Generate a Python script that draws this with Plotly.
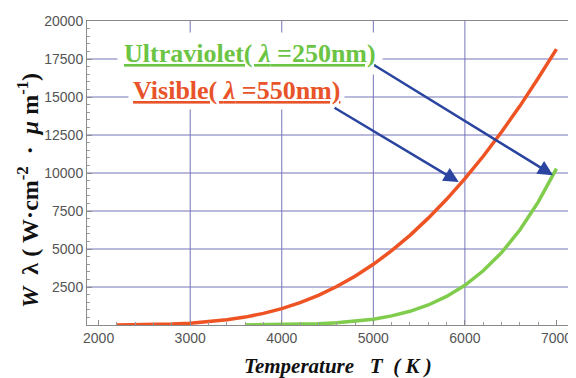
import plotly.graph_objects as go

# Visible (lambda = 550 nm)
vis_T = [2200, 2400, 2600, 2800, 3000, 3200, 3400, 3600, 3800, 4000, 4200, 4400,
         4600, 4800, 5000, 5200, 5400, 5600, 5800, 6000, 6200, 6400, 6600, 6800, 7000]
vis_W = [5, 14, 32, 65, 121, 209, 339, 520, 763, 1077, 1470, 1953,
         2530, 3210, 3995, 4890, 5900, 7030, 8270, 9630, 11100, 12700, 14400, 16230, 18150]

# Ultraviolet (lambda = 250 nm)
uv_T = [3600, 3800, 4000, 4200, 4400, 4600, 4800, 5000, 5200, 5400, 5600, 5800,
        6000, 6200, 6400, 6600, 6800, 7000]
uv_W = [4, 10, 22, 43, 80, 141, 238, 384, 598, 901, 1317, 1878,
        2615, 3565, 4760, 6250, 8085, 10290]

x_ticks = [2000, 3000, 4000, 5000, 6000, 7000]
y_ticks = [2500, 5000, 7500, 10000, 12500, 15000, 17500, 20000]
x_grid = [3000, 4000, 5000, 6000]
y_grid = [2500, 5000, 7500, 10000, 12500, 15000, 17500]

ORANGE = "#ee5324"
GREEN = "#80cc4c"
ARROW = "#2a44a0"
GRID = "#7575b8"
SERIF = "Liberation Serif, Times New Roman, serif"

fig = go.Figure()
fig.add_trace(go.Scatter(x=vis_T, y=vis_W, mode="lines",
                         line=dict(color=ORANGE, width=3.5), showlegend=False))
fig.add_trace(go.Scatter(x=uv_T, y=uv_W, mode="lines",
                         line=dict(color=GREEN, width=3.5), showlegend=False))

shapes = []
for gx in x_grid:
    shapes.append(dict(type="line", xref="x", yref="paper", x0=gx, x1=gx, y0=0, y1=1,
                       line=dict(color=GRID, width=1), layer="below"))
for gy in y_grid:
    shapes.append(dict(type="line", xref="paper", yref="y", x0=0, x1=1, y0=gy, y1=gy,
                       line=dict(color=GRID, width=1), layer="below"))

annotations = [
    # labels
    dict(x=3655, y=17850, xref="x", yref="y", showarrow=False,
         text="<b><u>Ultraviolet( <i>λ</i> =250nm)</u></b>",
         font=dict(family=SERIF, size=26, color="#6cc444"),
         bgcolor="white", borderpad=6),
    dict(x=3505, y=15400, xref="x", yref="y", showarrow=False,
         text="<b><u>Visible( <i>λ</i> =550nm)</u></b>",
         font=dict(family=SERIF, size=26, color="#e8532a"),
         bgcolor="white", borderpad=4),
    # arrows
    dict(x=5933, y=9400, ax=4560, ay=14350, xref="x", yref="y", axref="x", ayref="y",
         text="", font=dict(size=1), showarrow=True, arrowhead=2, arrowsize=1.2,
         arrowwidth=2.5, arrowcolor=ARROW, standoff=0),
    dict(x=6962, y=9860, ax=4995, ay=17150, xref="x", yref="y", axref="x", ayref="y",
         text="", font=dict(size=1), showarrow=True, arrowhead=2, arrowsize=1.2,
         arrowwidth=2.5, arrowcolor=ARROW, standoff=0),
    # axis titles
    dict(x=0, y=0.5, xref="paper", yref="paper", xanchor="center", yanchor="middle",
         xshift=-59, yshift=-18, showarrow=False, textangle=-90,
         text="<b><i>W</i>  λ ( W·cm<sup>-2</sup>  ·  <i>μ</i> m<sup>-1</sup>)</b>",
         font=dict(family=SERIF, size=24, color="#111111")),
    dict(x=0.5, y=0, xref="paper", yref="paper", xanchor="center", yanchor="middle",
         xshift=10, yshift=-41, showarrow=False,
         text="<b><i>Temperature   T  ( K )</i></b>",
         font=dict(family=SERIF, size=21, color="#111111")),
]

# the page body adds an 8px offset, so the figure is 8px smaller on each side
fig.update_layout(
    width=568, height=370,
    margin=dict(l=79, r=4, t=13, b=53),
    paper_bgcolor="white", plot_bgcolor="white",
    shapes=shapes, annotations=annotations,
    xaxis=dict(range=[1873, 7126], tickvals=x_ticks, tickformat="d", showgrid=False,
               zeroline=False, showline=True, linecolor="#8a8a8a", linewidth=1, mirror=True,
               ticks="inside", ticklen=5, tickcolor="#8a8a8a", ticklabeloverflow="allow",
               minor=dict(dtick=200, tick0=2000, ticks="inside", ticklen=3, tickcolor="#9a9a9a"),
               tickfont=dict(family="Liberation Sans, Arial", size=14, color="#555555")),
    yaxis=dict(range=[0, 20000], tickvals=y_ticks, tickformat="d", showgrid=False,
               zeroline=False, showline=True, linecolor="#8a8a8a", linewidth=1, mirror=True,
               ticks="inside", ticklen=5, tickcolor="#8a8a8a",
               minor=dict(dtick=500, tick0=0, ticks="inside", ticklen=3, tickcolor="#9a9a9a"),
               tickfont=dict(family="Liberation Sans, Arial", size=14, color="#555555")),
)

fig.write_html("out.html")
